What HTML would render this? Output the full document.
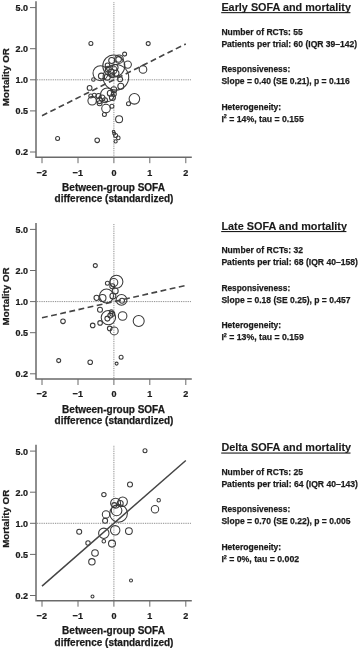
<!DOCTYPE html>
<html><head><meta charset="utf-8"><style>
html,body{margin:0;padding:0;background:#fff;width:358px;height:651px;overflow:hidden}
svg{display:block;filter:blur(0.5px)}
text{font-family:"Liberation Sans",sans-serif;font-weight:bold;fill:#1a1a1a;stroke:#1a1a1a;stroke-width:0.25px}
.tk{font-size:9.9px}
.at{font-size:10px}
.yt{font-size:9.75px}
.ti{font-size:10.5px;stroke-width:0.12px}
.bd{font-size:9.8px}
</style></head><body>
<svg width="358" height="651" viewBox="0 0 358 651">
<line x1="37.0" y1="79.8" x2="191.8" y2="79.8" stroke="#808080" stroke-width="1" stroke-dasharray="0.9 0.9"/>
<line x1="113.9" y1="2.3" x2="113.9" y2="156.2" stroke="#808080" stroke-width="1" stroke-dasharray="0.9 0.9"/>
<path d="M36.0,1.3 V157.2 H191.8" fill="none" stroke="#6a6a6a" stroke-width="1.5"/>
<line x1="30" y1="7.6" x2="36.0" y2="7.6" stroke="#6a6a6a" stroke-width="1.0"/>
<text transform="translate(27.9,11.05) scale(0.91,1)" text-anchor="end" class="tk">5.0</text>
<line x1="30" y1="48.7" x2="36.0" y2="48.7" stroke="#6a6a6a" stroke-width="1.0"/>
<text transform="translate(27.9,52.15) scale(0.91,1)" text-anchor="end" class="tk">2.0</text>
<line x1="30" y1="79.8" x2="36.0" y2="79.8" stroke="#6a6a6a" stroke-width="1.0"/>
<text transform="translate(27.9,83.25) scale(0.91,1)" text-anchor="end" class="tk">1.0</text>
<line x1="30" y1="110.9" x2="36.0" y2="110.9" stroke="#6a6a6a" stroke-width="1.0"/>
<text transform="translate(27.9,114.35) scale(0.91,1)" text-anchor="end" class="tk">0.5</text>
<line x1="30" y1="152.0" x2="36.0" y2="152.0" stroke="#6a6a6a" stroke-width="1.0"/>
<text transform="translate(27.9,155.45) scale(0.91,1)" text-anchor="end" class="tk">0.2</text>
<line x1="42.0" y1="157.2" x2="42.0" y2="163.2" stroke="#6a6a6a" stroke-width="1.0"/>
<text transform="translate(41.84,175.50) scale(0.91,1)" text-anchor="middle" class="tk">−2</text>
<line x1="78.0" y1="157.2" x2="78.0" y2="163.2" stroke="#6a6a6a" stroke-width="1.0"/>
<text transform="translate(77.77,175.50) scale(0.91,1)" text-anchor="middle" class="tk">−1</text>
<line x1="113.9" y1="157.2" x2="113.9" y2="163.2" stroke="#6a6a6a" stroke-width="1.0"/>
<text transform="translate(113.90,175.50) scale(0.91,1)" text-anchor="middle" class="tk">0</text>
<line x1="149.8" y1="157.2" x2="149.8" y2="163.2" stroke="#6a6a6a" stroke-width="1.0"/>
<text transform="translate(149.83,175.50) scale(0.91,1)" text-anchor="middle" class="tk">1</text>
<line x1="185.8" y1="157.2" x2="185.8" y2="163.2" stroke="#6a6a6a" stroke-width="1.0"/>
<text transform="translate(185.76,175.50) scale(0.91,1)" text-anchor="middle" class="tk">2</text>
<text x="113.5" y="190.8" text-anchor="middle" class="at">Between-group SOFA</text>
<text x="114" y="202.0" text-anchor="middle" class="at">difference (standardized)</text>
<text transform="translate(8.8,77.2) rotate(-90)" text-anchor="middle" class="yt">Mortality OR</text>
<line x1="37.0" y1="301.6" x2="191.8" y2="301.6" stroke="#808080" stroke-width="1" stroke-dasharray="0.9 0.9"/>
<line x1="113.9" y1="224.1" x2="113.9" y2="378.0" stroke="#808080" stroke-width="1" stroke-dasharray="0.9 0.9"/>
<path d="M36.0,223.1 V379.0 H191.8" fill="none" stroke="#6a6a6a" stroke-width="1.5"/>
<line x1="30" y1="229.4" x2="36.0" y2="229.4" stroke="#6a6a6a" stroke-width="1.0"/>
<text transform="translate(27.9,232.85) scale(0.91,1)" text-anchor="end" class="tk">5.0</text>
<line x1="30" y1="270.5" x2="36.0" y2="270.5" stroke="#6a6a6a" stroke-width="1.0"/>
<text transform="translate(27.9,273.95) scale(0.91,1)" text-anchor="end" class="tk">2.0</text>
<line x1="30" y1="301.6" x2="36.0" y2="301.6" stroke="#6a6a6a" stroke-width="1.0"/>
<text transform="translate(27.9,305.05) scale(0.91,1)" text-anchor="end" class="tk">1.0</text>
<line x1="30" y1="332.7" x2="36.0" y2="332.7" stroke="#6a6a6a" stroke-width="1.0"/>
<text transform="translate(27.9,336.15) scale(0.91,1)" text-anchor="end" class="tk">0.5</text>
<line x1="30" y1="373.8" x2="36.0" y2="373.8" stroke="#6a6a6a" stroke-width="1.0"/>
<text transform="translate(27.9,377.25) scale(0.91,1)" text-anchor="end" class="tk">0.2</text>
<line x1="42.0" y1="379.0" x2="42.0" y2="385.0" stroke="#6a6a6a" stroke-width="1.0"/>
<text transform="translate(41.84,397.30) scale(0.91,1)" text-anchor="middle" class="tk">−2</text>
<line x1="78.0" y1="379.0" x2="78.0" y2="385.0" stroke="#6a6a6a" stroke-width="1.0"/>
<text transform="translate(77.77,397.30) scale(0.91,1)" text-anchor="middle" class="tk">−1</text>
<line x1="113.9" y1="379.0" x2="113.9" y2="385.0" stroke="#6a6a6a" stroke-width="1.0"/>
<text transform="translate(113.90,397.30) scale(0.91,1)" text-anchor="middle" class="tk">0</text>
<line x1="149.8" y1="379.0" x2="149.8" y2="385.0" stroke="#6a6a6a" stroke-width="1.0"/>
<text transform="translate(149.83,397.30) scale(0.91,1)" text-anchor="middle" class="tk">1</text>
<line x1="185.8" y1="379.0" x2="185.8" y2="385.0" stroke="#6a6a6a" stroke-width="1.0"/>
<text transform="translate(185.76,397.30) scale(0.91,1)" text-anchor="middle" class="tk">2</text>
<text x="113.5" y="412.6" text-anchor="middle" class="at">Between-group SOFA</text>
<text x="114" y="423.8" text-anchor="middle" class="at">difference (standardized)</text>
<text transform="translate(8.8,296.4) rotate(-90)" text-anchor="middle" class="yt">Mortality OR</text>
<line x1="37.0" y1="523.3" x2="191.8" y2="523.3" stroke="#808080" stroke-width="1" stroke-dasharray="0.9 0.9"/>
<line x1="113.9" y1="445.8" x2="113.9" y2="599.7" stroke="#808080" stroke-width="1" stroke-dasharray="0.9 0.9"/>
<path d="M36.0,444.8 V600.7 H191.8" fill="none" stroke="#6a6a6a" stroke-width="1.5"/>
<line x1="30" y1="451.1" x2="36.0" y2="451.1" stroke="#6a6a6a" stroke-width="1.0"/>
<text transform="translate(27.9,454.55) scale(0.91,1)" text-anchor="end" class="tk">5.0</text>
<line x1="30" y1="492.2" x2="36.0" y2="492.2" stroke="#6a6a6a" stroke-width="1.0"/>
<text transform="translate(27.9,495.65) scale(0.91,1)" text-anchor="end" class="tk">2.0</text>
<line x1="30" y1="523.3" x2="36.0" y2="523.3" stroke="#6a6a6a" stroke-width="1.0"/>
<text transform="translate(27.9,526.75) scale(0.91,1)" text-anchor="end" class="tk">1.0</text>
<line x1="30" y1="554.4" x2="36.0" y2="554.4" stroke="#6a6a6a" stroke-width="1.0"/>
<text transform="translate(27.9,557.85) scale(0.91,1)" text-anchor="end" class="tk">0.5</text>
<line x1="30" y1="595.5" x2="36.0" y2="595.5" stroke="#6a6a6a" stroke-width="1.0"/>
<text transform="translate(27.9,598.95) scale(0.91,1)" text-anchor="end" class="tk">0.2</text>
<line x1="42.0" y1="600.7" x2="42.0" y2="606.7" stroke="#6a6a6a" stroke-width="1.0"/>
<text transform="translate(41.84,619.00) scale(0.91,1)" text-anchor="middle" class="tk">−2</text>
<line x1="78.0" y1="600.7" x2="78.0" y2="606.7" stroke="#6a6a6a" stroke-width="1.0"/>
<text transform="translate(77.77,619.00) scale(0.91,1)" text-anchor="middle" class="tk">−1</text>
<line x1="113.9" y1="600.7" x2="113.9" y2="606.7" stroke="#6a6a6a" stroke-width="1.0"/>
<text transform="translate(113.90,619.00) scale(0.91,1)" text-anchor="middle" class="tk">0</text>
<line x1="149.8" y1="600.7" x2="149.8" y2="606.7" stroke="#6a6a6a" stroke-width="1.0"/>
<text transform="translate(149.83,619.00) scale(0.91,1)" text-anchor="middle" class="tk">1</text>
<line x1="185.8" y1="600.7" x2="185.8" y2="606.7" stroke="#6a6a6a" stroke-width="1.0"/>
<text transform="translate(185.76,619.00) scale(0.91,1)" text-anchor="middle" class="tk">2</text>
<text x="113.5" y="634.3" text-anchor="middle" class="at">Between-group SOFA</text>
<text x="114" y="645.5" text-anchor="middle" class="at">difference (standardized)</text>
<text transform="translate(8.8,518.8) rotate(-90)" text-anchor="middle" class="yt">Mortality OR</text>
<circle cx="90.9" cy="43.5" r="2.0" fill="none" stroke="#3a3a3a" stroke-width="1.05"/>
<circle cx="148.2" cy="43.6" r="2.0" fill="none" stroke="#3a3a3a" stroke-width="1.05"/>
<circle cx="124.6" cy="54.1" r="2.0" fill="none" stroke="#3a3a3a" stroke-width="1.05"/>
<circle cx="113.8" cy="66" r="11" fill="none" stroke="#3a3a3a" stroke-width="1.05"/>
<circle cx="119" cy="59.2" r="4.3" fill="none" stroke="#3a3a3a" stroke-width="1.05"/>
<circle cx="118.6" cy="59.4" r="2.8" fill="none" stroke="#3a3a3a" stroke-width="1.05"/>
<circle cx="111.7" cy="60.4" r="3" fill="none" stroke="#3a3a3a" stroke-width="1.05"/>
<circle cx="127.8" cy="64.6" r="3.6" fill="none" stroke="#3a3a3a" stroke-width="1.05"/>
<circle cx="100.5" cy="73.2" r="7.5" fill="none" stroke="#3a3a3a" stroke-width="1.05"/>
<circle cx="101.4" cy="76.1" r="3.0" fill="none" stroke="#3a3a3a" stroke-width="1.05"/>
<circle cx="93.4" cy="79.5" r="1.7" fill="none" stroke="#3a3a3a" stroke-width="1.05"/>
<circle cx="115.9" cy="77.3" r="12.8" fill="none" stroke="#3a3a3a" stroke-width="1.05"/>
<circle cx="107.5" cy="65.3" r="2.3" fill="none" stroke="#3a3a3a" stroke-width="1.05"/>
<circle cx="108.3" cy="69.3" r="3" fill="none" stroke="#3a3a3a" stroke-width="1.05"/>
<circle cx="111.2" cy="72.3" r="3" fill="none" stroke="#3a3a3a" stroke-width="1.05"/>
<circle cx="115.1" cy="67.4" r="3" fill="none" stroke="#3a3a3a" stroke-width="1.05"/>
<circle cx="112.2" cy="75.2" r="2.5" fill="none" stroke="#3a3a3a" stroke-width="1.05"/>
<circle cx="107.3" cy="77.2" r="3" fill="none" stroke="#3a3a3a" stroke-width="1.05"/>
<circle cx="116" cy="73.2" r="3" fill="none" stroke="#3a3a3a" stroke-width="1.05"/>
<circle cx="113" cy="70" r="4" fill="none" stroke="#3a3a3a" stroke-width="1.05"/>
<circle cx="120.1" cy="79.2" r="2.5" fill="none" stroke="#3a3a3a" stroke-width="1.05"/>
<circle cx="120.8" cy="86.2" r="3" fill="none" stroke="#3a3a3a" stroke-width="1.05"/>
<circle cx="143" cy="69.4" r="3.8" fill="none" stroke="#3a3a3a" stroke-width="1.05"/>
<circle cx="113.8" cy="89.7" r="3" fill="none" stroke="#3a3a3a" stroke-width="1.05"/>
<circle cx="110.3" cy="93.2" r="3" fill="none" stroke="#3a3a3a" stroke-width="1.05"/>
<circle cx="113.8" cy="93.9" r="2.5" fill="none" stroke="#3a3a3a" stroke-width="1.05"/>
<circle cx="112.4" cy="97.4" r="3" fill="none" stroke="#3a3a3a" stroke-width="1.05"/>
<circle cx="89.6" cy="87.9" r="2.4" fill="none" stroke="#3a3a3a" stroke-width="1.05"/>
<circle cx="90.8" cy="96" r="2" fill="none" stroke="#3a3a3a" stroke-width="1.05"/>
<circle cx="94.3" cy="95.3" r="2" fill="none" stroke="#3a3a3a" stroke-width="1.05"/>
<circle cx="98.5" cy="96" r="2.5" fill="none" stroke="#3a3a3a" stroke-width="1.05"/>
<circle cx="102" cy="98" r="3" fill="none" stroke="#3a3a3a" stroke-width="1.05"/>
<circle cx="92.1" cy="100.8" r="4.2" fill="none" stroke="#3a3a3a" stroke-width="1.05"/>
<circle cx="99.5" cy="100.6" r="3" fill="none" stroke="#3a3a3a" stroke-width="1.05"/>
<circle cx="107.3" cy="94.8" r="6.8" fill="none" stroke="#3a3a3a" stroke-width="1.05"/>
<circle cx="134.4" cy="98.8" r="5.3" fill="none" stroke="#3a3a3a" stroke-width="1.05"/>
<circle cx="128.5" cy="103.7" r="2" fill="none" stroke="#3a3a3a" stroke-width="1.05"/>
<circle cx="99.6" cy="103.3" r="2.5" fill="none" stroke="#3a3a3a" stroke-width="1.05"/>
<circle cx="105" cy="100.2" r="2.5" fill="none" stroke="#3a3a3a" stroke-width="1.05"/>
<circle cx="106" cy="108.6" r="4.3" fill="none" stroke="#3a3a3a" stroke-width="1.05"/>
<circle cx="111.9" cy="106.2" r="2" fill="none" stroke="#3a3a3a" stroke-width="1.05"/>
<circle cx="104.4" cy="114.4" r="2" fill="none" stroke="#3a3a3a" stroke-width="1.05"/>
<circle cx="119.1" cy="119.3" r="3.5" fill="none" stroke="#3a3a3a" stroke-width="1.05"/>
<circle cx="113.6" cy="131.5" r="1.3" fill="none" stroke="#3a3a3a" stroke-width="1.05"/>
<circle cx="114.2" cy="133.4" r="1.5" fill="none" stroke="#3a3a3a" stroke-width="1.05"/>
<circle cx="115.6" cy="135.4" r="2" fill="none" stroke="#3a3a3a" stroke-width="1.05"/>
<circle cx="118.3" cy="137.9" r="1.8" fill="none" stroke="#3a3a3a" stroke-width="1.05"/>
<circle cx="115.6" cy="141.4" r="1.6" fill="none" stroke="#3a3a3a" stroke-width="1.05"/>
<circle cx="97.2" cy="140.3" r="2.3" fill="none" stroke="#3a3a3a" stroke-width="1.05"/>
<circle cx="57.6" cy="138.5" r="2.0" fill="none" stroke="#3a3a3a" stroke-width="1.05"/>
<circle cx="95.3" cy="265.6" r="2.0" fill="none" stroke="#3a3a3a" stroke-width="1.05"/>
<circle cx="116.4" cy="281.8" r="6.5" fill="none" stroke="#3a3a3a" stroke-width="1.05"/>
<circle cx="113.8" cy="282.5" r="4" fill="none" stroke="#3a3a3a" stroke-width="1.05"/>
<circle cx="107.4" cy="283.2" r="2" fill="none" stroke="#3a3a3a" stroke-width="1.05"/>
<circle cx="106.5" cy="296" r="7" fill="none" stroke="#3a3a3a" stroke-width="1.05"/>
<circle cx="96.6" cy="297.8" r="2.6" fill="none" stroke="#3a3a3a" stroke-width="1.05"/>
<circle cx="102.5" cy="297.9" r="3.5" fill="none" stroke="#3a3a3a" stroke-width="1.05"/>
<circle cx="121.5" cy="299.9" r="5.4" fill="none" stroke="#3a3a3a" stroke-width="1.05"/>
<circle cx="122" cy="300.8" r="2.5" fill="none" stroke="#3a3a3a" stroke-width="1.05"/>
<circle cx="112.9" cy="296" r="3" fill="none" stroke="#3a3a3a" stroke-width="1.05"/>
<circle cx="115.2" cy="291" r="3" fill="none" stroke="#3a3a3a" stroke-width="1.05"/>
<circle cx="112.3" cy="286.2" r="2.5" fill="none" stroke="#3a3a3a" stroke-width="1.05"/>
<circle cx="100" cy="309.8" r="2.5" fill="none" stroke="#3a3a3a" stroke-width="1.05"/>
<circle cx="108.4" cy="317.6" r="7.2" fill="none" stroke="#3a3a3a" stroke-width="1.05"/>
<circle cx="107.4" cy="318.6" r="2.5" fill="none" stroke="#3a3a3a" stroke-width="1.05"/>
<circle cx="110.3" cy="315.6" r="2.5" fill="none" stroke="#3a3a3a" stroke-width="1.05"/>
<circle cx="112.3" cy="313.7" r="2.5" fill="none" stroke="#3a3a3a" stroke-width="1.05"/>
<circle cx="111.3" cy="311.7" r="2" fill="none" stroke="#3a3a3a" stroke-width="1.05"/>
<circle cx="122.6" cy="316" r="4.3" fill="none" stroke="#3a3a3a" stroke-width="1.05"/>
<circle cx="138.7" cy="321" r="5.5" fill="none" stroke="#3a3a3a" stroke-width="1.05"/>
<circle cx="92.7" cy="325.4" r="2.3" fill="none" stroke="#3a3a3a" stroke-width="1.05"/>
<circle cx="100.1" cy="322.9" r="2.3" fill="none" stroke="#3a3a3a" stroke-width="1.05"/>
<circle cx="109.7" cy="328.4" r="2.3" fill="none" stroke="#3a3a3a" stroke-width="1.05"/>
<circle cx="114.2" cy="330.9" r="4" fill="none" stroke="#3a3a3a" stroke-width="1.05"/>
<circle cx="121.1" cy="357.3" r="2" fill="none" stroke="#3a3a3a" stroke-width="1.05"/>
<circle cx="116.6" cy="363.6" r="1.5" fill="none" stroke="#3a3a3a" stroke-width="1.05"/>
<circle cx="90.2" cy="362.2" r="2.3" fill="none" stroke="#3a3a3a" stroke-width="1.05"/>
<circle cx="63" cy="321.3" r="2.3" fill="none" stroke="#3a3a3a" stroke-width="1.05"/>
<circle cx="58.7" cy="360.6" r="2" fill="none" stroke="#3a3a3a" stroke-width="1.05"/>
<circle cx="145" cy="450.7" r="2" fill="none" stroke="#3a3a3a" stroke-width="1.05"/>
<circle cx="130" cy="484.5" r="2.5" fill="none" stroke="#3a3a3a" stroke-width="1.05"/>
<circle cx="103.9" cy="494.6" r="2.2" fill="none" stroke="#3a3a3a" stroke-width="1.05"/>
<circle cx="158.7" cy="500.3" r="1.7" fill="none" stroke="#3a3a3a" stroke-width="1.05"/>
<circle cx="155" cy="509.2" r="3.7" fill="none" stroke="#3a3a3a" stroke-width="1.05"/>
<circle cx="115.6" cy="503.2" r="5" fill="none" stroke="#3a3a3a" stroke-width="1.05"/>
<circle cx="122.7" cy="501.8" r="4.7" fill="none" stroke="#3a3a3a" stroke-width="1.05"/>
<circle cx="114.3" cy="505.1" r="2.5" fill="none" stroke="#3a3a3a" stroke-width="1.05"/>
<circle cx="120.2" cy="503.5" r="3" fill="none" stroke="#3a3a3a" stroke-width="1.05"/>
<circle cx="118.6" cy="513.4" r="8.8" fill="none" stroke="#3a3a3a" stroke-width="1.05"/>
<circle cx="116.6" cy="510.5" r="5.3" fill="none" stroke="#3a3a3a" stroke-width="1.05"/>
<circle cx="106" cy="514.4" r="3.7" fill="none" stroke="#3a3a3a" stroke-width="1.05"/>
<circle cx="105.1" cy="520.7" r="2.5" fill="none" stroke="#3a3a3a" stroke-width="1.05"/>
<circle cx="115.2" cy="530.3" r="4.7" fill="none" stroke="#3a3a3a" stroke-width="1.05"/>
<circle cx="103.8" cy="533.3" r="5.2" fill="none" stroke="#3a3a3a" stroke-width="1.05"/>
<circle cx="128.9" cy="531.1" r="3.4" fill="none" stroke="#3a3a3a" stroke-width="1.05"/>
<circle cx="79.2" cy="531.8" r="2.5" fill="none" stroke="#3a3a3a" stroke-width="1.05"/>
<circle cx="88" cy="543" r="2.2" fill="none" stroke="#3a3a3a" stroke-width="1.05"/>
<circle cx="103.8" cy="541.2" r="1.8" fill="none" stroke="#3a3a3a" stroke-width="1.05"/>
<circle cx="112" cy="543.6" r="3.5" fill="none" stroke="#3a3a3a" stroke-width="1.05"/>
<circle cx="95" cy="553" r="3.3" fill="none" stroke="#3a3a3a" stroke-width="1.05"/>
<circle cx="91.9" cy="561.8" r="3.2" fill="none" stroke="#3a3a3a" stroke-width="1.05"/>
<circle cx="131" cy="580.5" r="1.5" fill="none" stroke="#3a3a3a" stroke-width="1.05"/>
<circle cx="92.5" cy="596.4" r="1.5" fill="none" stroke="#3a3a3a" stroke-width="1.05"/>
<line x1="42.0" y1="115.7" x2="185.8" y2="43.9" stroke="#454545" stroke-width="1.65" stroke-dasharray="5.85 3.5"/>
<line x1="42.0" y1="317.8" x2="185.8" y2="285.4" stroke="#454545" stroke-width="1.65" stroke-dasharray="5.85 3.5"/>
<line x1="42.0" y1="586.1" x2="185.8" y2="460.5" stroke="#454545" stroke-width="1.5"/>
<text x="221.4" y="10.8" class="ti" textLength="129.6" lengthAdjust="spacingAndGlyphs">Early SOFA and mortality</text>
<rect x="221.20000000000002" y="12.1" width="129.2" height="1.1" fill="#1a1a1a"/>
<text x="221.4" y="34.5" class="bd" textLength="81.4" lengthAdjust="spacingAndGlyphs">Number of RCTs: 55</text>
<text x="221.4" y="46.6" class="bd" textLength="135.8" lengthAdjust="spacingAndGlyphs">Patients per trial: 60 (IQR 39–142)</text>
<text x="221.4" y="72.0" class="bd" textLength="68.8" lengthAdjust="spacingAndGlyphs">Responsiveness:</text>
<text x="221.4" y="84.1" class="bd" textLength="128.4" lengthAdjust="spacingAndGlyphs">Slope = 0.40 (SE 0.21), p = 0.116</text>
<text x="221.4" y="109.5" class="bd" textLength="59.8" lengthAdjust="spacingAndGlyphs">Heterogeneity:</text>
<text x="221.4" y="121.8" class="bd" textLength="82.4" lengthAdjust="spacingAndGlyphs">I<tspan dy="-3.4" font-size="6px">2</tspan><tspan dy="3.4"> = 14%, tau = 0.155</tspan></text>
<text x="221.4" y="229.7" class="ti" textLength="125.6" lengthAdjust="spacingAndGlyphs">Late SOFA and mortality</text>
<rect x="221.20000000000002" y="231.0" width="125.19999999999999" height="1.1" fill="#1a1a1a"/>
<text x="221.4" y="253.0" class="bd" textLength="81.6" lengthAdjust="spacingAndGlyphs">Number of RCTs: 32</text>
<text x="221.4" y="265.1" class="bd" textLength="136.6" lengthAdjust="spacingAndGlyphs">Patients per trial: 68 (IQR 40–158)</text>
<text x="221.4" y="290.5" class="bd" textLength="68.8" lengthAdjust="spacingAndGlyphs">Responsiveness:</text>
<text x="221.4" y="302.6" class="bd" textLength="129.2" lengthAdjust="spacingAndGlyphs">Slope = 0.18 (SE 0.25), p = 0.457</text>
<text x="221.4" y="328.0" class="bd" textLength="59.8" lengthAdjust="spacingAndGlyphs">Heterogeneity:</text>
<text x="221.4" y="340.3" class="bd" textLength="82.4" lengthAdjust="spacingAndGlyphs">I<tspan dy="-3.4" font-size="6px">2</tspan><tspan dy="3.4"> = 13%, tau = 0.159</tspan></text>
<text x="221.4" y="451.2" class="ti" textLength="129.7" lengthAdjust="spacingAndGlyphs">Delta SOFA and mortality</text>
<rect x="221.20000000000002" y="452.5" width="129.29999999999998" height="1.1" fill="#1a1a1a"/>
<text x="221.4" y="474.7" class="bd" textLength="81.6" lengthAdjust="spacingAndGlyphs">Number of RCTs: 25</text>
<text x="221.4" y="486.8" class="bd" textLength="136.6" lengthAdjust="spacingAndGlyphs">Patients per trial: 64 (IQR 40–143)</text>
<text x="221.4" y="512.2" class="bd" textLength="68.8" lengthAdjust="spacingAndGlyphs">Responsiveness:</text>
<text x="221.4" y="524.3" class="bd" textLength="129.2" lengthAdjust="spacingAndGlyphs">Slope = 0.70 (SE 0.22), p = 0.005</text>
<text x="221.4" y="549.7" class="bd" textLength="59.8" lengthAdjust="spacingAndGlyphs">Heterogeneity:</text>
<text x="221.4" y="562.0" class="bd" textLength="77.7" lengthAdjust="spacingAndGlyphs">I<tspan dy="-3.4" font-size="6px">2</tspan><tspan dy="3.4"> = 0%, tau = 0.002</tspan></text>
</svg>
</body></html>
